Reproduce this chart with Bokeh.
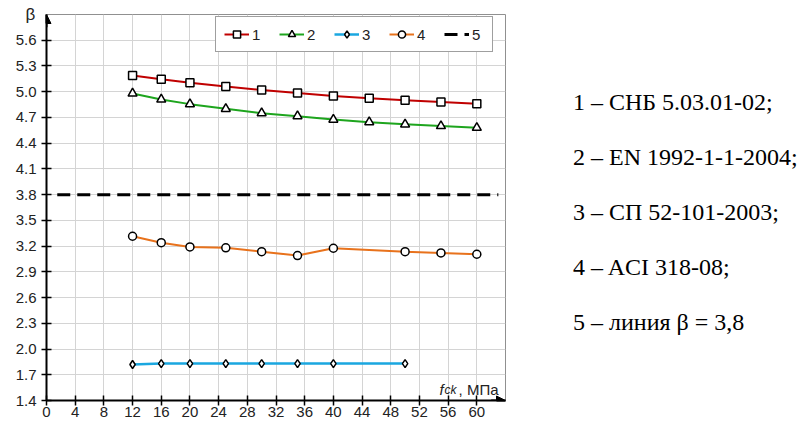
from bokeh.plotting import figure
from bokeh.models import (Range1d, FixedTicker, Label, Arrow, NormalHead, Legend,
                          LegendItem, NumeralTickFormatter, Div)
from bokeh.layouts import row
from bokeh.embed import file_html
from bokeh.resources import INLINE

# ---- data ----
x_12 = [12, 16, 20, 25, 30, 35, 40, 45, 50, 55, 60]
beta_1 = [5.19, 5.145, 5.105, 5.06, 5.02, 4.985, 4.95, 4.925, 4.90, 4.88, 4.86]
beta_2 = [4.98, 4.91, 4.855, 4.80, 4.75, 4.715, 4.675, 4.645, 4.62, 4.60, 4.58]
x_3 = [12, 16, 20, 25, 30, 35, 40, 50]
beta_3 = [1.82, 1.83, 1.83, 1.83, 1.83, 1.83, 1.83, 1.83]
x_4 = [12, 16, 20, 25, 30, 35, 40, 50, 55, 60]
beta_4 = [3.315, 3.24, 3.19, 3.18, 3.135, 3.09, 3.175, 3.135, 3.12, 3.105]
x_5 = [1.5, 63]
beta_5 = [3.8, 3.8]

x_ticks = [0, 4, 8, 12, 16, 20, 24, 28, 32, 36, 40, 44, 48, 52, 56, 60]
x_grid = x_ticks + [64]
y_ticks = [1.4, 1.7, 2.0, 2.3, 2.6, 2.9, 3.2, 3.5, 3.8, 4.1, 4.4, 4.7, 5.0, 5.3, 5.6]
series_labels = ["1", "2", "3", "4", "5"]
notes = ["1 – СНБ 5.03.01-02;", "2 – EN 1992-1-1-2004;", "3 – СП 52-101-2003;",
         "4 – ACI 318-08;", "5 – линия β = 3,8"]

SANS = "Liberation Sans"
SERIF = "Liberation Serif"

p = figure(frame_width=459, frame_height=386,
           x_range=Range1d(0, 64), y_range=Range1d(1.4, 5.9),
           output_backend="svg", toolbar_location=None,
           min_border_left=46, min_border_top=14, min_border_right=6,
           min_border_bottom=20)
p.background_fill_color = "white"
p.border_fill_color = "white"
p.outline_line_color = "#909090"
p.outline_line_width = 1

# y-axis symbol as title
p.title.text = "β"
p.title.align = "left"
p.title.offset = -21
p.title.standoff = -18
p.title.text_line_height = 1.8
p.title.text_font = SANS
p.title.text_font_size = "17px"
p.title.text_font_style = "normal"
p.title.text_color = "#222222"

# axes
for ax in (p.xaxis[0], p.yaxis[0]):
    ax.axis_line_color = "black"
    ax.axis_line_width = 2
    ax.major_tick_line_color = "black"
    ax.major_tick_line_width = 1.5
    ax.major_tick_in = 5
    ax.major_tick_out = 5
    ax.minor_tick_line_color = None
    ax.major_label_text_font = SANS
    ax.major_label_text_font_size = "15px"
    ax.major_label_text_color = "#222222"
p.xaxis.ticker = FixedTicker(ticks=x_ticks)
p.yaxis.ticker = FixedTicker(ticks=y_ticks)
p.yaxis.formatter = NumeralTickFormatter(format="0.0")
p.xaxis.major_label_standoff = 1
p.yaxis.major_label_standoff = 5

p.xgrid.ticker = FixedTicker(ticks=x_grid)
p.ygrid.ticker = FixedTicker(ticks=y_ticks)
p.grid.grid_line_color = "#d4d4d4"
p.grid.grid_line_width = 1

# series
c1, c2, c3, c4 = "#c00000", "#1ea51e", "#1aa7e0", "#e8721c"
l1 = p.line(x_12, beta_1, line_color=c1, line_width=2)
m1 = p.scatter(x_12, beta_1, marker="square", size=8, fill_color="white",
               line_color="black", line_width=1.5)
l2 = p.line(x_12, beta_2, line_color=c2, line_width=2)
m2 = p.scatter(x_12, beta_2, marker="triangle", size=9, fill_color="white",
               line_color="black", line_width=1.5)
l3 = p.line(x_3, beta_3, line_color=c3, line_width=2.5)
m3 = p.scatter(x_3, beta_3, marker="diamond", size=8, fill_color="white",
               line_color="black", line_width=1.5)
l4 = p.line(x_4, beta_4, line_color=c4, line_width=2)
m4 = p.scatter(x_4, beta_4, marker="circle", size=8, fill_color="white",
               line_color="black", line_width=1.5)
l5 = p.line(x_5, beta_5, line_color="black", line_width=3, line_dash="13 7")

legend = Legend(items=[
    LegendItem(label=series_labels[0], renderers=[l1, m1]),
    LegendItem(label=series_labels[1], renderers=[l2, m2]),
    LegendItem(label=series_labels[2], renderers=[l3, m3]),
    LegendItem(label=series_labels[3], renderers=[l4, m4]),
    LegendItem(label=series_labels[4], renderers=[l5]),
], orientation="horizontal", location=(169, 348))
legend.border_line_color = "#404040"
legend.border_line_width = 1
legend.background_fill_color = "white"
legend.background_fill_alpha = 1
legend.padding = 8
legend.spacing = 15
legend.margin = 0
legend.label_standoff = 3
legend.label_width = 12
legend.glyph_width = 25
legend.glyph_height = 18
legend.label_height = 18
legend.label_text_font = SANS
legend.label_text_font_size = "15px"
legend.label_text_color = "#222222"
p.add_layout(legend)

# axis arrows
p.add_layout(Arrow(end=NormalHead(size=9, fill_color="black", line_color="black"),
                   x_start=p.x_range.start, y_start=5.75,
                   x_end=p.x_range.start, y_end=p.y_range.end,
                   line_color="black", line_width=2))
p.add_layout(Arrow(end=NormalHead(size=9, fill_color="black", line_color="black"),
                   x_start=62, y_start=p.y_range.start,
                   x_end=p.x_range.end, y_end=p.y_range.start,
                   line_color="black", line_width=2))

# x-axis title inside the frame
p.add_layout(Label(x=393, y=11, x_units="screen", y_units="screen", text="f",
                   text_font=SANS, text_font_size="15px", text_font_style="italic",
                   text_color="#222222", text_baseline="alphabetic"))
p.add_layout(Label(x=398, y=11, x_units="screen", y_units="screen", text="ck",
                   text_font=SANS, text_font_size="12px", text_font_style="italic",
                   text_color="#222222", text_baseline="alphabetic"))
p.add_layout(Label(x=452, y=11, x_units="screen", y_units="screen", text=", МПа",
                   text_font=SANS, text_font_size="15px", text_align="right",
                   text_color="#222222", text_baseline="alphabetic"))

# notes on the right
note_centers = [102, 157, 212, 267, 322]
html = ['<div style="position:relative;width:280px;height:410px;font-size:24px;'
        'color:black;font-family:\'Liberation Serif\';">']
for t, cy in zip(notes, note_centers):
    html.append('<div style="position:absolute;left:62px;top:%dpx;line-height:28px;'
                'white-space:nowrap;font-family:\'Liberation Serif\';">%s</div>' % (cy - 14, t))
html.append('</div>')
div = Div(text="".join(html), width=280, height=410, margin=(0, 0, 0, 0))

layout = row(p, div)
open("out.html", "w").write(file_html(layout, INLINE))
